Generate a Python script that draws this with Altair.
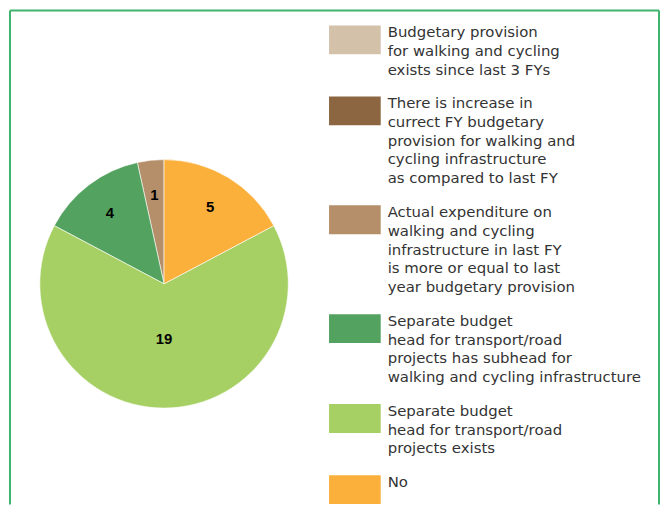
import altair as alt
import pandas as pd

categories = [
    "Budgetary provision|for walking and cycling|exists since last 3 FYs",
    "There is increase in|currect FY budgetary|provision for walking and|cycling infrastructure|as compared to last FY",
    "Actual expenditure on|walking and cycling|infrastructure in last FY|is more or equal to last|year budgetary provision",
    "Separate budget|head for transport/road|projects has subhead for|walking and cycling infrastructure",
    "Separate budget|head for transport/road|projects exists",
    "No",
]
values = [0, 0, 1, 4, 19, 5]
colors = ["#D3C1AA", "#8B6641", "#B58F6A", "#53A25F", "#A7D064", "#FBB03C"]

df = pd.DataFrame({
    "category": categories,
    "value": values,
    "order": list(range(len(categories)))[::-1],
})

CX, CY, R = 157, 276, 125

legend = alt.Legend(
    title=None, orient="none", legendX=331, legendY=-2,
    symbolType="M-1.444,0H1.444V1.611H-1.444Z", symbolSize=1296, symbolStrokeWidth=0,
    symbolOpacity=1,
    labelExpr="split(datum.label, '|')", labelFont="DejaVu Sans", labelFontSize=15,
    labelColor="#333333", labelLimit=400, labelOffset=15,
    labelBaseline="top", rowPadding=0.5,
)

base = alt.Chart(df).transform_filter("datum.value > 0")

arcs = base.mark_arc(outerRadius=R, stroke="white", strokeWidth=0.6).encode(
    theta=alt.Theta("value:Q", stack=True),
    color=alt.Color("category:N", scale=alt.Scale(domain=categories, range=colors), legend=legend),
    order=alt.Order("order:Q"),
    x=alt.value(CX), y=alt.value(CY),
)

mids = base.transform_window(
    cum="sum(value)", sort=[alt.SortField("order", order="ascending")],
    frame=[None, 0],
).transform_calculate(mid="datum.cum - datum.value / 2")

def label_layer(test, r):
    return mids.transform_filter(test).mark_text(
        font="Liberation Sans", fontSize=15, fontWeight="bold", color="black"
    ).encode(
        theta=alt.Theta("mid:Q", stack=None),
        radius=alt.value(r),
        text="value:Q",
        x=alt.value(CX), y=alt.value(CY),
    )

labels_big = label_layer("datum.value > 10", 56)
labels_small = label_layer("datum.value <= 10", 90)

border_df = pd.DataFrame({"k": [0]})
bc = "#3DB36E"
left = alt.Chart(border_df).mark_rule(color=bc, strokeWidth=2).encode(
    x=alt.value(2), y=alt.value(1), y2=alt.value(498))
right = alt.Chart(border_df).mark_rule(color=bc, strokeWidth=2).encode(
    x=alt.value(655), y=alt.value(1), y2=alt.value(498))
top = alt.Chart(border_df).mark_rule(color=bc, strokeWidth=2).encode(
    x=alt.value(2), x2=alt.value(655), y=alt.value(1))

chart = alt.layer(arcs, labels_big, labels_small, left, right, top).properties(
    width=657, height=498, padding=0,
    autosize=alt.AutoSizeParams(type="none"),
).configure(
    style={"guide-label": {"lineHeight": 18.8}},
    view=alt.ViewConfig(strokeWidth=0),
)

chart.save("out.html", embed_options={"renderer": "svg", "actions": False})
